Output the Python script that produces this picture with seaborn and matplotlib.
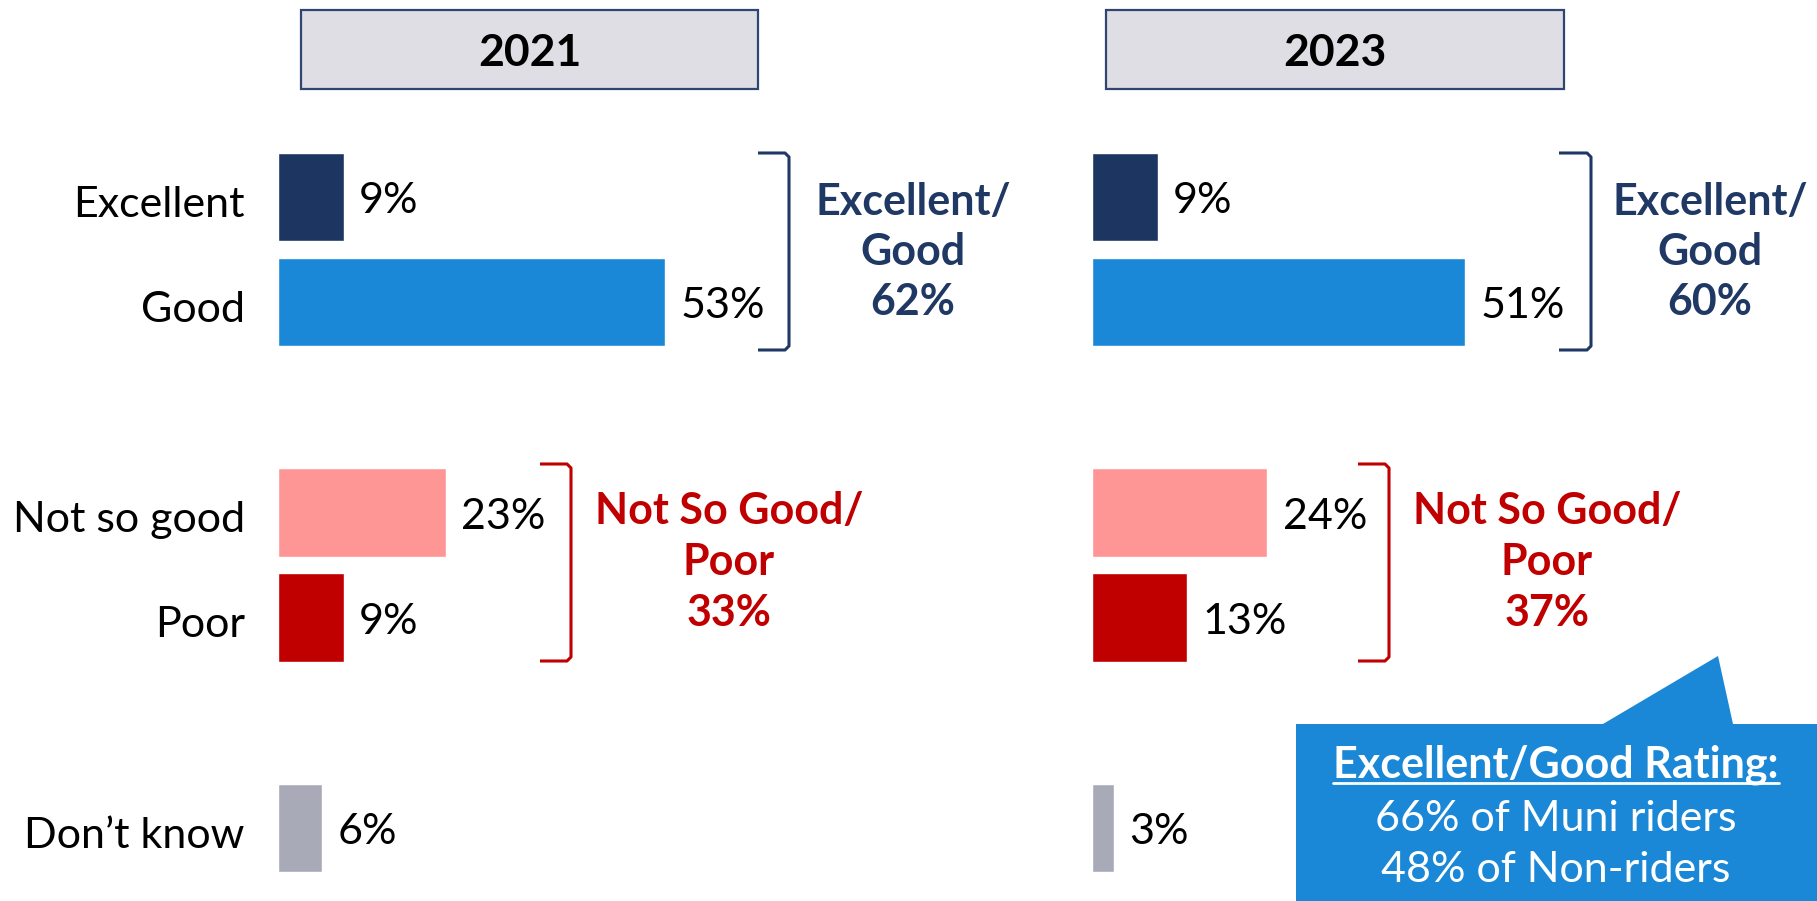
import pandas as pd
import seaborn as sns
import matplotlib.pyplot as plt
import matplotlib.transforms as mtransforms
from matplotlib.patches import Rectangle, Polygon
from matplotlib.lines import Line2D

# data
ratings = ['Excellent', 'Good', 'Not so good', 'Poor', 'Don’t know']
pct_2021 = [9, 53, 23, 9, 6]
pct_2023 = [9, 51, 24, 13, 3]
years = ['2021', '2023']
good_totals = ['62%', '60%']
poor_totals = ['33%', '37%']
callout_lines = ['Excellent/Good Rating:', '66% of Muni riders', '48% of Non-riders']

# spacer rows so the groups sit apart
order = ['Excellent', 'Good', ' ', 'Not so good', 'Poor', '  ', 'Don’t know']
colors = {'Excellent': '#1D3661', 'Good': '#1A88D6', 'Not so good': '#FF9696',
          'Poor': '#C00000', 'Don’t know': '#A9AAB8'}
NAVY = '#1F3864'
RED = '#C00000'

sns.set_theme(style='white')
plt.rcParams['font.family'] = ['Lato', 'DejaVu Sans']
FS = 31

W, H = 1817, 901
fig = plt.figure(figsize=(W / 100, H / 100), dpi=100)

def fx(x):
    return x / W

def fy(y):
    return 1 - y / H

px_per_pct = 7.31
unit = 105.2
top = 197 - unit / 2
bottom = 828 + unit / 2
xmax = 60
# text in the original sits a touch below the bar centres
nudge = mtransforms.ScaledTranslation(0, -3 / 72, fig.dpi_scale_trans)

panels = [(278, pct_2021), (1092, pct_2023)]
for i, (left, vals) in enumerate(panels):
    ax = fig.add_axes([fx(left), fy(bottom), xmax * px_per_pct / W, (bottom - top) / H])
    df = pd.DataFrame({'rating': ratings, 'pct': vals})
    sns.barplot(data=df, x='pct', y='rating', order=order, hue='rating',
                palette=colors, width=0.84, saturation=1, legend=False, ax=ax)
    for c in ax.containers:
        for t in ax.bar_label(c, fmt='{:.0f}%', padding=11, fontsize=FS, color='black'):
            t.xyann = (t.xyann[0], t.xyann[1] - 3)
    ax.set_xlim(0, xmax)
    ax.set_ylim(6.5, -0.5)
    ax.set_xlabel('')
    ax.set_ylabel('')
    ax.set_xticks([])
    ax.tick_params(axis='y', length=0, pad=24, labelsize=FS, labelcolor='black')
    if i == 1:
        ax.set_yticklabels([])
    for lab in ax.get_yticklabels():
        lab.set_transform(lab.get_transform() + nudge)
    sns.despine(ax=ax, left=True, bottom=True)
    ax.patch.set_alpha(0)

# year header boxes
for (x0, x1), yr in zip([(301, 758), (1106, 1564)], years):
    fig.patches.append(Rectangle((fx(x0), fy(89)), (x1 - x0) / W, 79 / H,
                                 transform=fig.transFigure, facecolor='#DEDEE4',
                                 edgecolor='#2E4670', linewidth=1.6))
    fig.text(fx((x0 + x1) / 2), fy(53), yr, ha='center', va='center',
             fontsize=FS + 1, fontweight='bold', color='black')

# brackets
def bracket(x0, x1, y0, y1, color):
    xs = [fx(x0), fx(x1 - 4), fx(x1), fx(x1), fx(x1 - 4), fx(x0)]
    ys = [fy(y0), fy(y0), fy(y0 + 4), fy(y1 - 4), fy(y1), fy(y1)]
    fig.lines.append(Line2D(xs, ys, transform=fig.transFigure, color=color,
                            linewidth=2.2, solid_joinstyle='round', solid_capstyle='butt'))

bracket(758, 789, 153, 350, NAVY)
bracket(1559, 1591, 153, 350, NAVY)
bracket(540, 571, 464, 661, RED)
bracket(1358, 1389, 464, 661, RED)

# group totals
for cx, tot in zip([913, 1710], good_totals):
    for j, line in enumerate(['Excellent/', 'Good', tot]):
        fig.text(fx(cx), fy(202 + 50 * j), line, ha='center', va='center',
                 fontsize=FS, fontweight='bold', color=NAVY)
for cx, tot in zip([729, 1547], poor_totals):
    for j, line in enumerate(['Not So Good/', 'Poor', tot]):
        fig.text(fx(cx), fy(511 + 51 * j), line, ha='center', va='center',
                 fontsize=FS, fontweight='bold', color=RED)

# callout
pts = [(1296, 724), (1603, 724), (1718, 656), (1733, 724), (1830, 724),
       (1830, 910), (1296, 910)]
fig.patches.append(Polygon([(fx(x), fy(y)) for x, y in pts], closed=True,
                           transform=fig.transFigure, facecolor='#1A88D6',
                           edgecolor='none', clip_on=False))
head = fig.text(fx(1556), fy(765), callout_lines[0], ha='center', va='center',
                fontsize=FS, fontweight='bold', color='white')
for j, line in enumerate(callout_lines[1:]):
    fig.text(fx(1556), fy(819 + 51 * j), line, ha='center', va='center',
             fontsize=FS, color='white')

fig.canvas.draw()
bb = head.get_window_extent()
fig.lines.append(Line2D([bb.x0 / W, bb.x1 / W], [fy(783), fy(783)],
                        transform=fig.transFigure, color='white', linewidth=2))

fig.savefig('out.png', dpi=100, facecolor='white')
